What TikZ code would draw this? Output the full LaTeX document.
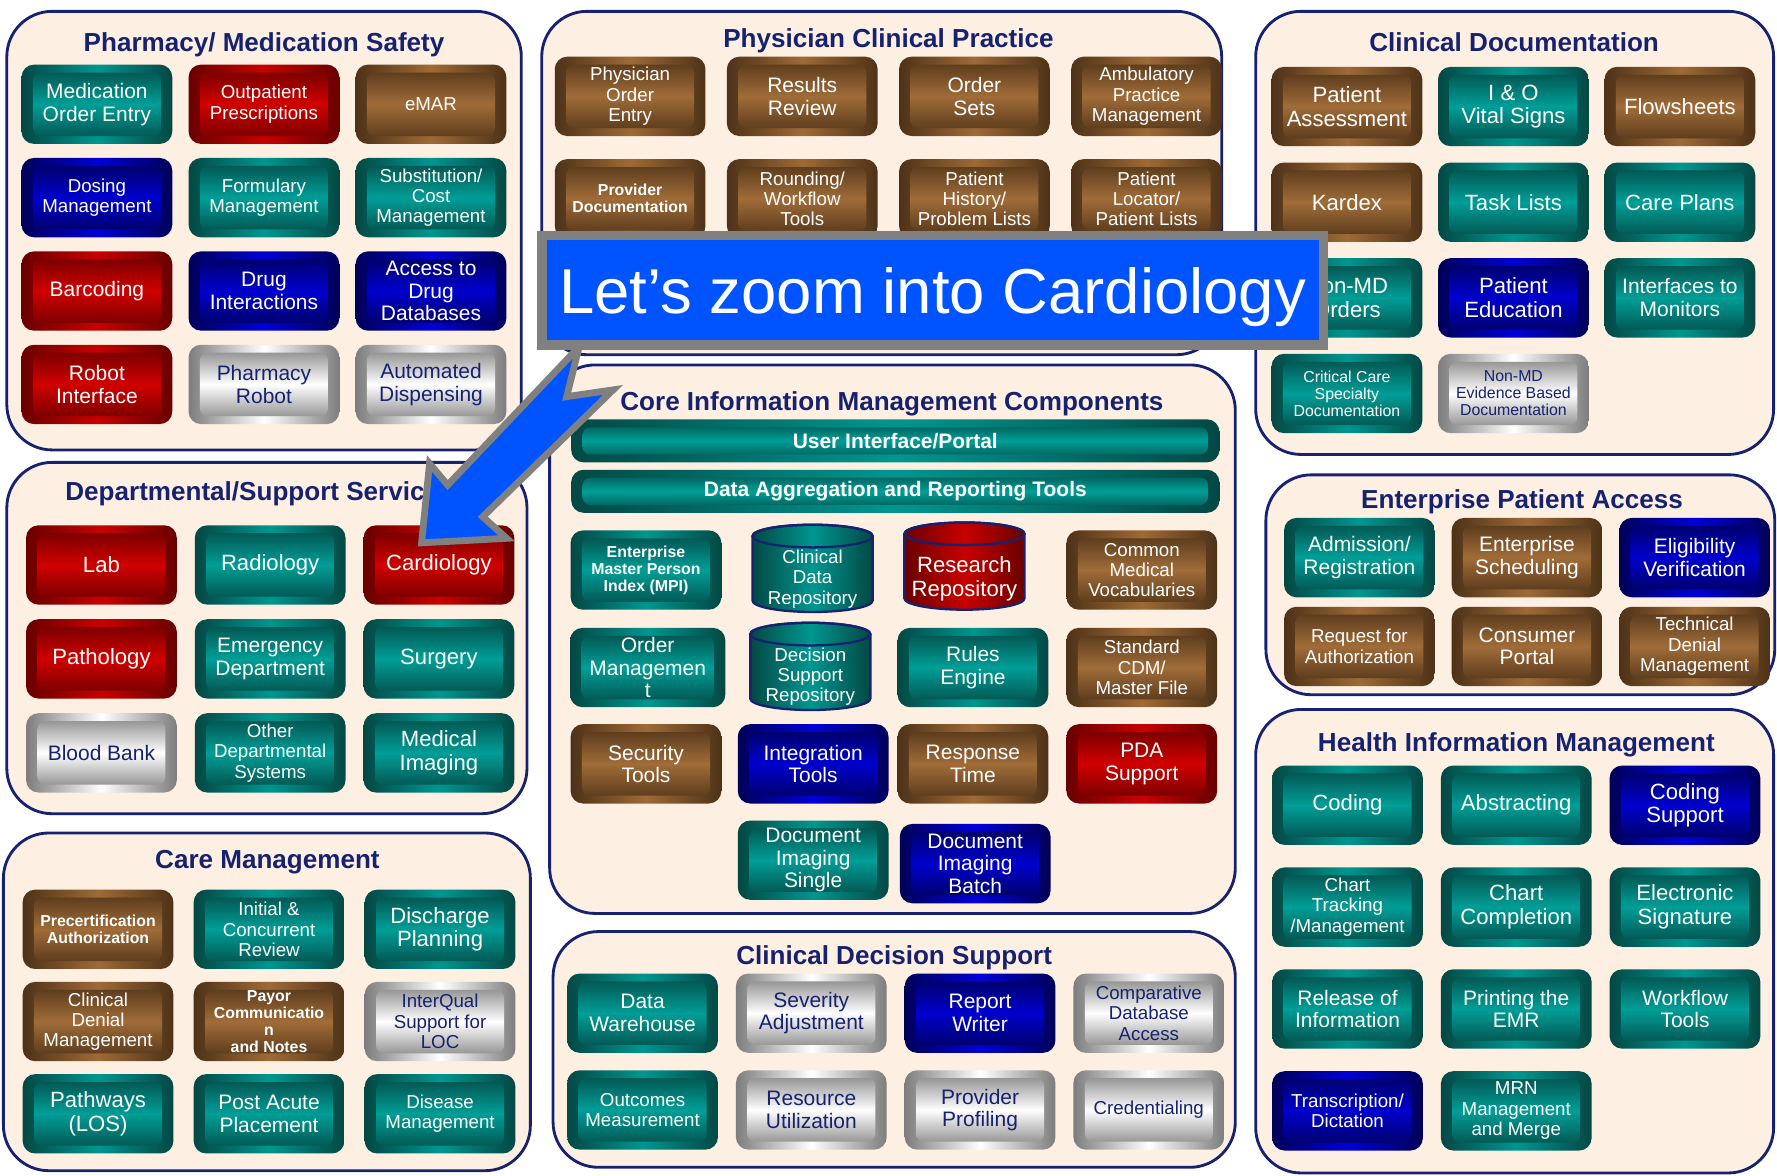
\documentclass[tikz,border=0pt]{standalone}
\usepackage{fontspec}
\setmainfont{Liberation Sans}
\usetikzlibrary{positioning}
\definecolor{tealdk}{RGB}{4,72,68}
\definecolor{tealmd}{RGB}{0,150,144}
\definecolor{teallt}{RGB}{0,158,151}
\definecolor{reddk}{RGB}{105,0,0}
\definecolor{redmd}{RGB}{200,0,0}
\definecolor{redlt}{RGB}{208,0,0}
\definecolor{browndk}{RGB}{78,50,24}
\definecolor{brownmd}{RGB}{158,106,54}
\definecolor{brownlt}{RGB}{160,108,56}
\definecolor{bluedk}{RGB}{0,0,88}
\definecolor{bluemd}{RGB}{0,0,215}
\definecolor{bluelt}{RGB}{0,0,205}
\definecolor{silverdk}{RGB}{125,125,125}
\definecolor{silverlt}{RGB}{255,255,255}
\definecolor{panelnavy}{RGB}{22,34,112}
\definecolor{panelfill}{RGB}{253,239,226}
\definecolor{bannerblue}{RGB}{0,84,255}
\definecolor{bannergray}{RGB}{128,128,128}
\newcommand*{\tilefont}{\fontsize{18.5}{20}\selectfont}
\newcommand*{\bigtile}{\fontsize{19.5}{21}\selectfont}
\newcommand*{\smalltile}{\fontsize{16.5}{18}\selectfont}
\newcommand*{\tinytile}{\fontsize{14}{15}\selectfont}
\newcommand*{\boldtile}{\bfseries\fontsize{14}{15}\selectfont}
% x, y, left, middle, right
\newcommand*{\drumshape}[5]{%
  \shade[left color=#3, right color=#5, middle color=#4, draw=panelnavy, line width=2pt]
    ({#1-53},{#2-28.5}) -- ({#1-53},{#2+28.5})
    arc[start angle=180, end angle=360, x radius=53pt, y radius=10pt]
    -- ({#1+53},{#2-28.5})
    arc[start angle=0, end angle=180, x radius=53pt, y radius=10pt] -- cycle;
  \draw[panelnavy, line width=2pt] (#1,{#2-28.5}) ellipse [x radius=53pt, y radius=10pt];}
\tikzset{
  tile/.style n args={4}{rounded corners=11pt, minimum width=133pt, minimum height=70pt,
    inner sep=1pt, align=center, text=#4, font=\tilefont,
    left color=#1, right color=#1, middle color=#2,
    path picture={\shade[top color=#1, bottom color=#1, middle color=#3, rounded corners=7pt]
      ([xshift=10pt,yshift=-7pt]path picture bounding box.north west) rectangle
      ([xshift=-10pt,yshift=7pt]path picture bounding box.south east);}},
  tealbox/.style={tile={tealdk}{tealmd}{teallt}{white}},
  redbox/.style={tile={reddk}{redmd}{redlt}{white}},
  brownbox/.style={tile={browndk}{brownmd}{brownlt}{white}},
  bluebox/.style={tile={bluedk}{bluemd}{bluelt}{white}},
  silverbox/.style={tile={silverdk}{silverlt}{silverlt}{panelnavy}},
  bar/.style={minimum width=572pt, minimum height=38pt, font=\bfseries\fontsize{18.5}{20}\selectfont},
  drumtext/.style={align=center, text=white, font=\smalltile, inner sep=0pt},
  panel/.style={draw=panelnavy, line width=2.5pt, fill=panelfill, rounded corners=40pt},
  title/.style={font=\bfseries\fontsize{23}{25}\selectfont, text=panelnavy, inner sep=0pt,
    text height=16.5pt, text depth=0pt},
  pointer/.style={fill=bannerblue, draw=bannergray, line width=6pt, line join=miter},
  banner/.style={fill=bannerblue, draw=bannergray, line width=8.5pt, minimum width=689.5pt,
    minimum height=96.5pt, inner sep=0pt, text=white, font=\fontsize{56}{60}\selectfont,
    text height=50pt, text depth=9pt}
}
\begin{document}
\begin{tikzpicture}[x=1pt, y=-1pt]
\useasboundingbox (0,0) rectangle (1568,1037);
\fill[white] (0,0) rectangle (1568,1037);
\draw[panel] (6,10) rectangle (460,397);
\draw[panel] (478,10) rectangle (1078,313);
\draw[panel] (1108,10) rectangle (1565,401);
\draw[panel] (6,408) rectangle (465,718);
\draw[panel] (485,322) rectangle (1090,806);
\draw[panel] (1117,419) rectangle (1566,613);
\draw[panel] (1108,626) rectangle (1565,1035);
\draw[panel] (3,735) rectangle (468,1033);
\draw[panel] (488,822) rectangle (1090,1030);
\node (pharmtitle) [title] at (233,37) {Pharmacy/ Medication Safety};
\node (phystitle) [title] at (784,34) {Physician Clinical Practice};
\node (doctitle) [title] at (1336,37) {Clinical Documentation};
\node (depttitle) [title] at (229,433) {Departmental/Support Services};
\node (coretitle) [title] at (787,354) {Core Information Management Components};
\node (accesstitle) [title] at (1343,440) {Enterprise Patient Access};
\node (himtitle) [title] at (1338,655) {Health Information Management};
\node (caretitle) [title] at (236,758) {Care Management};
\node (cdstitle) [title] at (789,843) {Clinical Decision Support};

\node (medorder) [tealbox] at (85.5,92) {Medication\\Order Entry};
\node (outpat) [redbox, font=\smalltile, right=14pt of medorder] {Outpatient\\Prescriptions};
\node (emar) [brownbox, font=\smalltile, right=14pt of outpat] {eMAR};
\node (dosing) [bluebox, font=\smalltile, below=12pt of medorder] {Dosing\\Management};
\node (formulary) [tealbox, font=\smalltile, right=14pt of dosing] {Formulary\\Management};
\node (subst) [tealbox, font=\smalltile, right=14pt of formulary] {Substitution/\\Cost\\Management};
\node (barcode) [redbox, below=12pt of dosing] {Barcoding};
\node (druginter) [bluebox, right=14pt of barcode] {Drug\\Interactions};
\node (drugdb) [bluebox, right=14pt of druginter] {Access to\\Drug\\Databases};
\node (robotif) [redbox, below=12pt of barcode] {Robot\\Interface};
\node (pharmrobot) [silverbox, right=14pt of robotif] {Pharmacy\\Robot};
\node (autodisp) [silverbox, right=14pt of pharmrobot] {Automated\\Dispensing};

\node (physorder) [brownbox, font=\smalltile] at (556,85) {Physician\\Order\\Entry};
\node (results) [brownbox, right=18.5pt of physorder] {Results\\Review};
\node (ordersets) [brownbox, right=18.5pt of results] {Order\\Sets};
\node (ambulatory) [brownbox, font=\smalltile, right=18.5pt of ordersets] {Ambulatory\\Practice\\Management};
\node (providerdoc) [brownbox, font=\boldtile, below=20pt of physorder] {Provider\\Documentation};
\node (rounding) [brownbox, font=\smalltile, right=18.5pt of providerdoc] {Rounding/\\Workflow\\Tools};
\node (history) [brownbox, font=\smalltile, right=18.5pt of rounding] {Patient\\History/\\Problem Lists};
\node (locator) [brownbox, font=\smalltile, right=18.5pt of history] {Patient\\Locator/\\Patient Lists};

\node (patassess) [brownbox, font=\bigtile] at (1188.5,94) {Patient\\Assessment};
\node (iovitals) [tealbox, font=\bigtile, right=13.5pt of patassess] {I \& O\\Vital Signs};
\node (flowsheets) [brownbox, font=\bigtile, right=13.5pt of iovitals] {Flowsheets};
\node (kardex) [brownbox, font=\bigtile, below=14pt of patassess] {Kardex};
\node (tasklists) [tealbox, font=\bigtile, right=13.5pt of kardex] {Task Lists};
\node (careplans) [tealbox, font=\bigtile, right=13.5pt of tasklists] {Care Plans};
\node (nonmdorders) [tealbox, font=\bigtile, below=14pt of kardex] {Non-MD\\Orders};
\node (pateducation) [bluebox, font=\bigtile, right=13.5pt of nonmdorders] {Patient\\Education};
\node (monitors) [tealbox, right=13.5pt of pateducation] {Interfaces to\\Monitors};
\node (critcare) [tealbox, font=\tinytile, below=14pt of nonmdorders] {Critical Care\\Specialty\\Documentation};
\node (nonmdevid) [silverbox, font=\tinytile, right=13.5pt of critcare] {Non-MD\\Evidence Based\\Documentation};

\node (lab) [redbox, font=\bigtile] at (89.5,498.5) {Lab};
\node (radiology) [tealbox, font=\bigtile, right=15.5pt of lab] {Radiology};
\node (cardiology) [redbox, font=\bigtile, right=15.5pt of radiology] {Cardiology};
\node (pathology) [redbox, font=\bigtile, below=12.5pt of lab] {Pathology};
\node (emergency) [tealbox, right=15.5pt of pathology] {Emergency\\Department};
\node (surgery) [tealbox, font=\bigtile, right=15.5pt of emergency] {Surgery};
\node (bloodbank) [silverbox, below=12.5pt of pathology] {Blood Bank};
\node (otherdept) [tealbox, font=\smalltile, right=15.5pt of bloodbank] {Other\\Departmental\\Systems};
\node (medimaging) [tealbox, font=\bigtile, right=15.5pt of otherdept] {Medical\\Imaging};

\node (precert) [brownbox, font=\boldtile] at (86.5,820) {Precertification\\Authorization};
\node (initialrev) [tealbox, font=\smalltile, right=17.5pt of precert] {Initial \&\\Concurrent\\Review};
\node (discharge) [tealbox, font=\bigtile, right=17.5pt of initialrev] {Discharge\\Planning};
\node (clindenial) [brownbox, font=\smalltile, below=11pt of precert] {Clinical\\Denial\\Management};
\node (payor) [brownbox, font=\boldtile, right=17.5pt of clindenial] {Payor\\Communicatio\\n\\and Notes};
\node (interqual) [silverbox, font=\smalltile, right=17.5pt of payor] {InterQual\\Support for\\LOC};
\node (pathways) [tealbox, font=\bigtile, below=11pt of clindenial] {Pathways\\(LOS)};
\node (postacute) [tealbox, right=17.5pt of pathways] {Post Acute\\Placement};
\node (disease) [tealbox, font=\smalltile, right=17.5pt of postacute] {Disease\\Management};

\node (uiportal) [tealbox, bar] at (790,389) {User Interface/Portal};
\node (dataagg) [tealbox, bar] at (790,433.5) {Data Aggregation and Reporting Tools};
\node (empi) [tealbox, font=\boldtile] at (570,503) {Enterprise\\Master Person\\Index (MPI)};
\drumshape{717}{501.5}{tealdk}{tealmd}{tealdk}
\node (cdr) [drumtext] at (717,511) {Clinical\\Data\\Repository};
\drumshape{851}{499.5}{reddk}{redmd}{reddk}
\node (research) [drumtext, font=\bigtile] at (851,510.5) {Research\\Repository};
\node (vocab) [brownbox, font=\smalltile] at (1007.5,503) {Common\\Medical\\Vocabularies};
\node (ordermgmt) [tealbox, minimum width=137pt] at (571.5,589) {Order\\Managemen\\t};
\drumshape{715}{588}{tealdk}{tealmd}{tealdk}
\node (dsr) [drumtext] at (715,597) {Decision\\Support\\Repository};
\node (rules) [tealbox] at (858.5,589) {Rules\\Engine};
\node (cdm) [brownbox, font=\smalltile] at (1007.5,589) {Standard\\CDM/\\Master File};
\node (security) [brownbox] at (570,674) {Security\\Tools};
\node (integration) [bluebox] at (717.5,674) {Integration\\Tools};
\node (response) [brownbox] at (858.5,674) {Response\\Time};
\node (pda) [redbox] at (1007.5,674) {PDA\\Support};
\node (docsingle) [tealbox] at (717.5,759) {Document\\Imaging\\Single};
\node (docbatch) [bluebox] at (860.5,762) {Document\\Imaging\\Batch};

\node (warehouse) [tealbox] at (567,894) {Data\\Warehouse};
\node (severity) [silverbox, right=15.5pt of warehouse] {Severity\\Adjustment};
\node (reportwriter) [bluebox, right=15.5pt of severity] {Report\\Writer};
\node (comparative) [silverbox, font=\smalltile, right=15.5pt of reportwriter] {Comparative\\Database\\Access};
\node (outcomes) [tealbox, font=\smalltile, below=15pt of warehouse] {Outcomes\\Measurement};
\node (resource) [silverbox, right=15.5pt of outcomes] {Resource\\Utilization};
\node (profiling) [silverbox, right=15.5pt of resource] {Provider\\Profiling};
\node (credentialing) [silverbox, font=\smalltile, right=15.5pt of profiling] {Credentialing};

\node (admission) [tealbox] at (1199.5,492) {Admission/\\Registration};
\node (scheduling) [brownbox, right=14.5pt of admission] {Enterprise\\Scheduling};
\node (eligibility) [bluebox, right=14.5pt of scheduling] {Eligibility\\Verification};
\node (reqauth) [brownbox, font=\smalltile, below=8pt of admission] {Request for\\Authorization};
\node (consumer) [brownbox, right=14.5pt of reqauth] {Consumer\\Portal};
\node (techdenial) [brownbox, font=\smalltile, right=14.5pt of consumer] {Technical\\Denial\\Management};

\node (coding) [tealbox, font=\bigtile] at (1189,710.5) {Coding};
\node (abstracting) [tealbox, font=\bigtile, right=15.5pt of coding] {Abstracting};
\node (codingsupport) [bluebox, font=\bigtile, right=15.5pt of abstracting] {Coding\\Support};
\node (charttrack) [tealbox, font=\smalltile, below=19.5pt of coding] {Chart\\Tracking\\/Management};
\node (chartcomp) [tealbox, font=\bigtile, right=15.5pt of charttrack] {Chart\\Completion};
\node (esign) [tealbox, font=\bigtile, right=15.5pt of chartcomp] {Electronic\\Signature};
\node (roi) [tealbox, below=19.5pt of charttrack] {Release of\\Information};
\node (printemr) [tealbox, right=15.5pt of roi] {Printing the\\EMR};
\node (workflow) [tealbox, right=15.5pt of printemr] {Workflow\\Tools};
\node (transcription) [bluebox, font=\smalltile, below=19.5pt of roi] {Transcription/\\Dictation};
\node (mrn) [tealbox, font=\smalltile, right=15.5pt of transcription] {MRN\\Management\\and Merge};

\draw[pointer] (511,306) -- (500,350) -- (541,344) -- (426,456) -- (447,475) -- (372,479) -- (379,409) -- (395,428) -- cycle;
\node (zoomnote) [banner] at (823,256) {Let’s zoom into Cardiology};
\end{tikzpicture}
\end{document}
